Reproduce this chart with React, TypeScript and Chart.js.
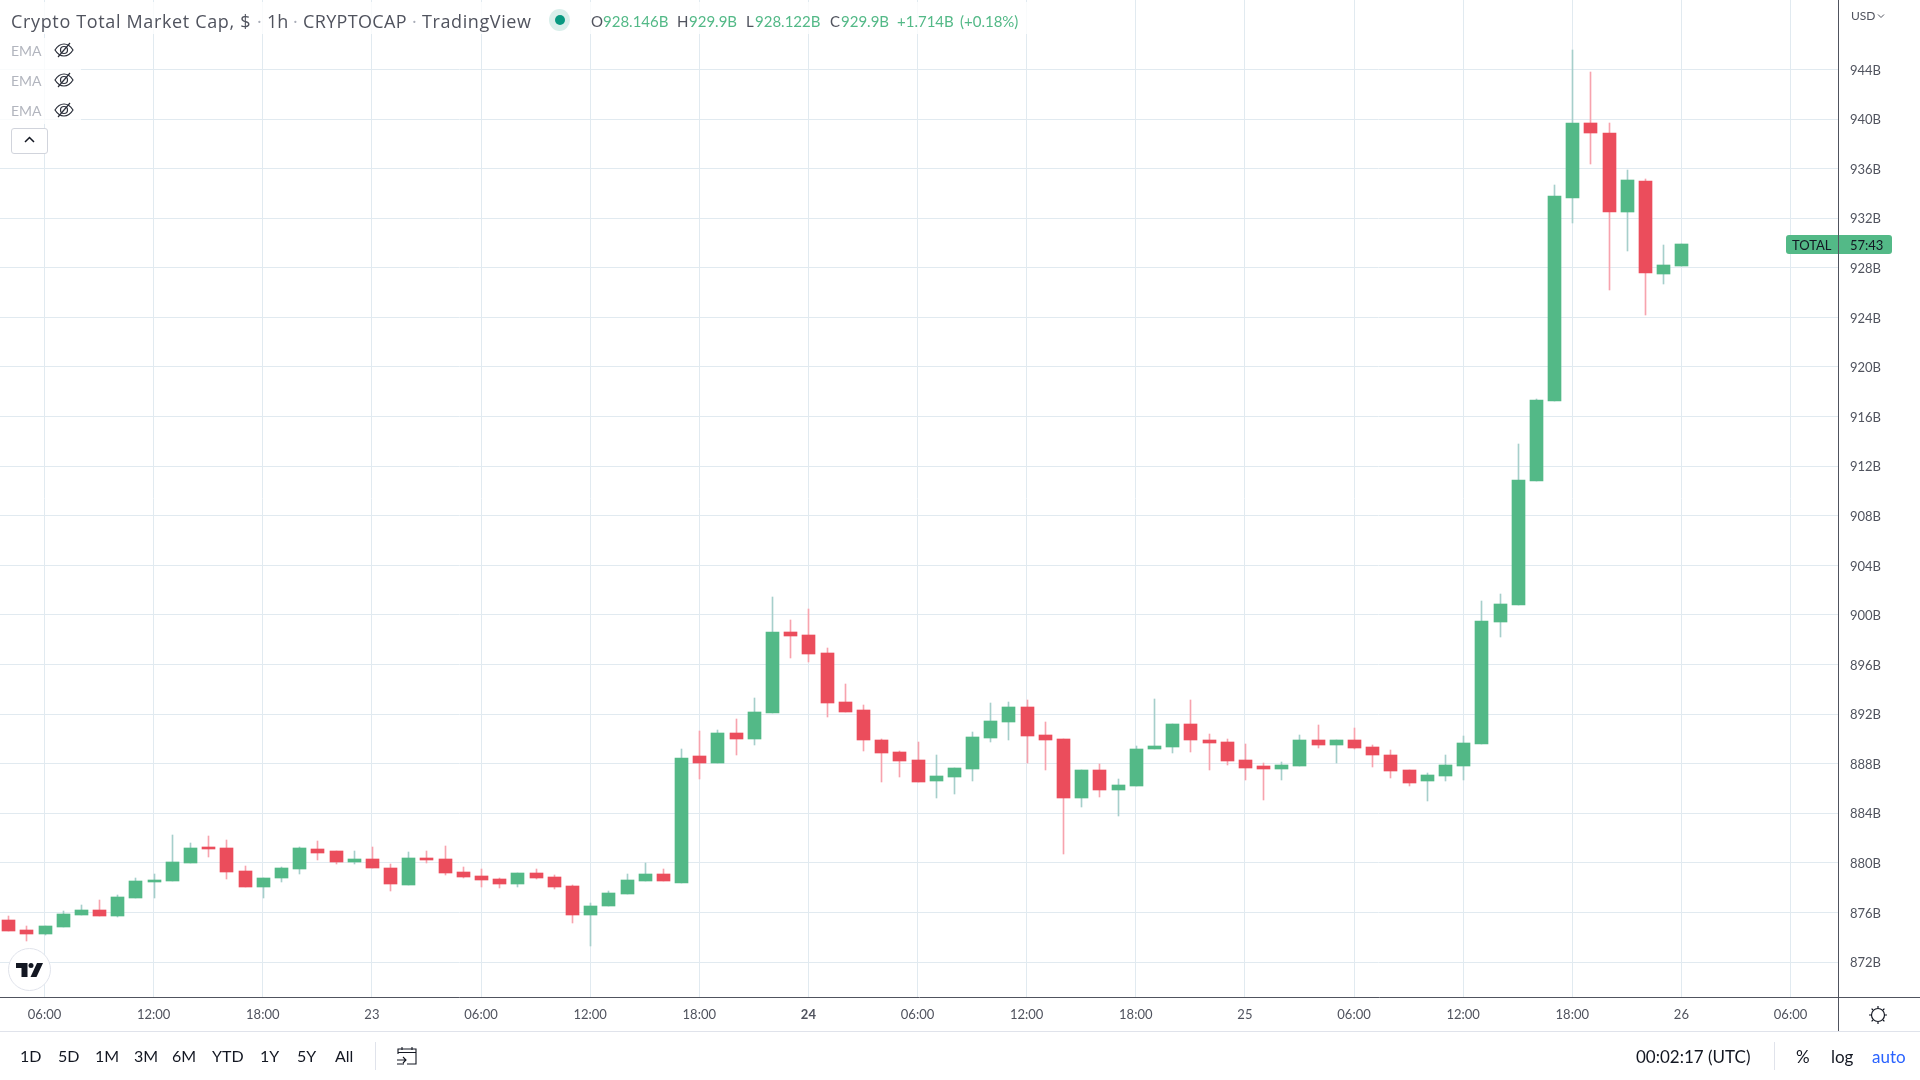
import React, { useEffect, useRef } from "react";
import { Chart, registerables } from "chart.js";

Chart.register(...registerables);

// Hourly candles, hour 4 of the 22nd onwards (hour 0 = 22nd 00:00 UTC)
const firstHour = 4;
const opens = [875.41,874.61,874.28,874.85,875.82,876.22,875.74,877.19,878.48,878.56,880.01,881.30,881.22,879.37,878.08,878.80,879.53,881.14,880.98,880.09,880.33,879.61,878.24,880.41,880.33,879.28,878.96,878.72,878.32,879.20,878.88,878.16,875.82,876.54,877.51,878.56,879.14,878.40,888.58,888.09,890.51,890.03,892.12,898.66,898.41,896.96,893.01,892.37,889.95,888.98,888.33,886.64,886.96,887.61,890.11,891.40,892.61,890.35,890.03,885.27,887.53,885.91,886.24,889.22,889.38,891.24,889.95,889.78,888.33,887.85,887.61,887.85,889.95,889.54,889.95,889.38,888.74,887.45,886.64,887.04,887.85,889.62,899.46,900.83,910.83,917.28,933.62,939.67,938.87,932.49,935.00,927.49,928.146];
const highs = [875.74,874.93,874.93,876.14,876.62,877.03,877.43,878.80,879.12,882.27,881.62,882.19,881.87,879.77,878.80,879.69,881.30,881.78,880.98,880.98,881.30,879.93,880.90,880.98,881.38,879.69,879.53,878.80,879.20,879.53,879.04,878.24,876.78,877.75,879.12,879.95,879.54,889.22,890.67,890.75,891.64,893.33,901.48,899.62,900.51,897.37,894.46,892.77,890.03,889.06,889.78,888.74,887.69,890.59,892.93,893.01,893.17,891.40,890.03,887.53,888.01,886.80,889.46,893.25,891.24,893.17,890.43,890.03,889.62,888.09,888.17,890.35,891.08,889.95,890.91,889.54,889.14,887.53,887.28,888.66,890.27,901.16,901.72,913.82,917.45,934.67,945.56,943.78,939.67,935.88,935.16,929.83,929.90];
const lows = [874.53,873.72,874.20,874.85,875.82,875.74,875.66,877.19,877.19,878.56,880.01,880.49,878.72,878.08,877.19,878.48,879.12,880.25,879.93,879.93,879.61,877.75,878.24,880.01,879.04,878.80,878.08,877.99,878.08,878.72,877.91,875.17,873.32,876.54,877.51,878.56,878.54,878.40,886.80,888.09,888.74,889.54,892.12,896.56,896.24,891.80,892.20,889.06,886.56,886.96,886.56,885.27,885.59,886.64,889.78,889.95,888.09,887.45,880.75,884.54,885.35,883.82,886.24,889.22,888.90,888.98,887.53,887.93,886.72,885.11,886.72,887.85,889.30,888.09,889.22,887.77,886.88,886.24,885.03,886.64,886.72,889.62,898.25,900.83,910.83,917.28,931.61,936.37,926.20,929.35,924.19,926.69,928.122];
const closes = [874.53,874.28,874.93,875.90,876.22,875.74,877.27,878.56,878.64,880.09,881.22,881.14,879.28,878.08,878.80,879.61,881.22,880.82,880.09,880.33,879.61,878.32,880.41,880.25,879.20,878.88,878.64,878.32,879.20,878.80,878.08,875.82,876.54,877.59,878.64,879.12,878.54,888.49,888.09,890.51,890.03,892.20,898.66,898.33,896.88,892.93,892.20,889.87,888.90,888.25,886.56,887.04,887.69,890.19,891.48,892.61,890.27,889.87,885.27,887.53,885.91,886.32,889.22,889.46,891.24,889.87,889.70,888.25,887.69,887.61,887.93,889.95,889.54,889.95,889.30,888.66,887.37,886.48,887.12,887.93,889.70,899.54,900.91,910.91,917.37,933.78,939.67,938.87,932.49,935.08,927.58,928.22,929.90];

const yTicks = [872,876,880,884,888,892,896,900,904,908,912,916,920,924,928,932,936,940,944];
const xTickHours = [6,12,18,24,30,36,42,48,54,60,66,72,78,84,90,96,102];
const xTickLabels = ["06:00","12:00","18:00","23","06:00","12:00","18:00","24","06:00","12:00","18:00","25","06:00","12:00","18:00","26","06:00"];
const rangeButtons = ["1D","5D","1M","3M","6M","YTD","1Y","5Y","All"];
const rangeLefts = [20,58,95,134,172,212,260,297,335];

const FONT = "Lato, 'Open Sans', sans-serif";
const TITLE_FONT = "'Open Sans', sans-serif";
const UP = "#53b987";
const DOWN = "#eb4d5c";
const UP_WICK = "#a6cfcb";
const DOWN_WICK = "#f7a3ae";
const GRID = "#e1eaf0";
const AXIS = "#50535e";
const TEXT = "#50535e";

const snapBars = {
  id: "snapBars",
  afterDatasetsUpdate(chart: any) {
    chart.data.datasets.forEach((_: any, i: number) => {
      chart.getDatasetMeta(i).data.forEach((el: any) => {
        el.x = Math.round(el.x) + 0.5;
        el.y = Math.round(el.y);
        el.base = Math.round(el.base);
      });
    });
  },
};

const clearPadding = (s: any) => {
  s.paddingTop = 0;
  s.paddingBottom = 0;
  s.paddingLeft = 0;
  s.paddingRight = 0;
};

function T({ x, y, size = 13, color = TEXT, children, weight, family = FONT, spacing }: any) {
  return (
    <div style={{ position: "absolute", left: x, top: y, transform: "translateY(-50%)", fontFamily: family, fontSize: size, color, whiteSpace: "nowrap", lineHeight: 1, fontWeight: weight, letterSpacing: spacing }}>
      {children}
    </div>
  );
}

function Box({ x, y, w, h, bg, style }: any) {
  return <div style={{ position: "absolute", left: x, top: y, width: w, height: h, background: bg, ...style }} />;
}

function Eye({ y }: { y: number }) {
  return (
    <svg style={{ position: "absolute", left: 54, top: y - 9 }} width="20" height="18" viewBox="0 0 20 18" fill="none" stroke="#2a2e39" strokeWidth="1.2">
      <path d="M1 9c2.5-4 5.500-6 9-6s6.500 2 9 6c-2.500 4-5.500 6-9 6s-6.500-2-9-6z" />
      <circle cx="10" cy="9" r="3.5" />
      <path d="M4 16L16 2" />
    </svg>
  );
}

export default function App() {
  const ref = useRef<HTMLCanvasElement>(null);

  useEffect(() => {
    const hours = opens.map((_, i) => firstHour + i);
    const isUp = opens.map((o, i) => closes[i] >= o);
    const chart = new Chart(ref.current as HTMLCanvasElement, {
      type: "bar",
      plugins: [snapBars],
      data: {
        datasets: [
          {
            label: "Wick",
            data: hours.map((h, i) => ({ x: h, y: [lows[i], highs[i]] })),
            backgroundColor: isUp.map((u) => (u ? UP_WICK : DOWN_WICK)),
            barThickness: 1,
            grouped: false,
            order: 2,
          },
          {
            label: "Body",
            data: hours.map((h, i) => ({ x: h, y: [opens[i], closes[i]] })),
            backgroundColor: isUp.map((u) => (u ? UP : DOWN)),
            barThickness: 13,
            grouped: false,
            order: 1,
          },
        ] as any,
      },
      options: {
        animation: false,
        responsive: false,
        layout: { padding: 0 },
        plugins: { legend: { display: false }, title: { display: false }, tooltip: { enabled: false } },
        scales: {
          x: {
            type: "linear",
            offset: false,
            min: 3.553,
            max: 104.61,
            afterFit: (s: any) => { s.height = 83; clearPadding(s); },
            afterBuildTicks: (s: any) => { s.ticks = xTickHours.map((value) => ({ value })); },
            grid: { color: GRID, drawTicks: false, lineWidth: 1, offset: false },
            border: { color: AXIS, width: 1 },
            ticks: {
              autoSkip: false,
              maxRotation: 0,
              padding: 10,
              color: TEXT,
              font: (c: any) => ({ family: FONT, size: 13, weight: c.tick && c.tick.label === "24" ? "bold" : "normal" }),
              callback: (v: any) => xTickLabels[xTickHours.indexOf(v)],
            },
          },
          y: {
            position: "right",
            min: 869.18,
            max: 949.6,
            afterFit: (s: any) => { s.width = 82; clearPadding(s); },
            afterBuildTicks: (s: any) => { s.ticks = yTicks.map((value) => ({ value })); },
            grid: { color: GRID, drawTicks: false, lineWidth: 1 },
            border: { color: AXIS, width: 1 },
            ticks: {
              autoSkip: false,
              padding: 12,
              labelOffset: 1,
              color: TEXT,
              font: { family: FONT, size: 13 },
              callback: (v: any) => `${v}B`,
            },
          },
        },
      } as any,
    });
    return () => chart.destroy();
  }, []);

  const o = { y: 21, size: 15 };
  return (
    <div style={{ position: "absolute", left: 0, top: 0, width: 1920, height: 1080, overflow: "hidden", background: "#fff" }}>
      <canvas ref={ref} width={1920} height={1080} style={{ display: "block", position: "absolute", left: 0, top: 0 }} />

      {/* header */}
      <Box x={0} y={2} w={1027} h={32} bg="rgba(255,255,255,0.8)" />
      <T x={11} y={21} size={18} family={TITLE_FONT} spacing={0.65}>Crypto Total Market Cap, $</T>
      <T x={257} y={21} size={18} color="#a9adb8" family={TITLE_FONT}>·</T>
      <T x={267} y={21} size={18} family={TITLE_FONT}>1h</T>
      <T x={293} y={21} size={18} color="#a9adb8" family={TITLE_FONT}>·</T>
      <T x={303} y={21} size={18} family={TITLE_FONT} spacing={0.35}>CRYPTOCAP</T>
      <T x={412} y={21} size={18} color="#a9adb8" family={TITLE_FONT}>·</T>
      <T x={422} y={21} size={18} family={TITLE_FONT} spacing={0.6}>TradingView</T>
      <div style={{ position: "absolute", left: 549, top: 9, width: 21, height: 22, borderRadius: "50%", background: "#d9efeb" }} />
      <div style={{ position: "absolute", left: 555, top: 15, width: 10, height: 10, borderRadius: "50%", background: "#089981" }} />
      <T x={591} {...o}>O</T>
      <T x={603} {...o} color={UP}>928.146B</T>
      <T x={677} {...o}>H</T>
      <T x={689} {...o} color={UP}>929.9B</T>
      <T x={746} {...o}>L</T>
      <T x={755} {...o} color={UP}>928.122B</T>
      <T x={830} {...o}>C</T>
      <T x={841} {...o} color={UP}>929.9B</T>
      <T x={897} {...o} color={UP}>+1.714B</T>
      <T x={960} {...o} color={UP}>(+0.18%)</T>

      {/* indicator legend */}
      <Box x={0} y={38} w={81} h={86} bg="rgba(255,255,255,0.8)" />
      <T x={11} y={51} size={14} color="#b2b5be">EMA</T>
      <T x={11} y={81} size={14} color="#b2b5be">EMA</T>
      <T x={11} y={111} size={14} color="#b2b5be">EMA</T>
      <Eye y={50} />
      <Eye y={80} />
      <Eye y={110} />
      <div style={{ position: "absolute", left: 11, top: 128, width: 35, height: 24, border: "1px solid #d1d4dc", borderRadius: 3, background: "#fff" }}>
        <svg style={{ position: "absolute", left: 11, top: 6 }} width="13" height="10" viewBox="0 0 13 10" fill="none" stroke="#131722" strokeWidth="1.5">
          <path d="M2 7l4.500-4.500L11 7" />
        </svg>
      </div>

      {/* logo */}
      <div style={{ position: "absolute", left: 8, top: 948, width: 41, height: 41, borderRadius: "50%", background: "#fff", border: "1px solid #e0e3eb" }} />
      <svg style={{ position: "absolute", left: 16, top: 963 }} width="27" height="14" viewBox="0 0 27 14" fill="#131722">
        <path d="M0 0H11.500V14H5.500V5H0Z" />
        <circle cx="15" cy="2.500" r="2.500" />
        <path d="M21 0H27L20.500 14H14.500Z" />
      </svg>

      {/* price axis furniture */}
      <T x={1851} y={16} size={12}>USD</T>
      <svg style={{ position: "absolute", left: 1877, top: 13 }} width="8" height="6" viewBox="0 0 8 6" fill="none" stroke={TEXT} strokeWidth="1">
        <path d="M1 1.500l3 3 3-3" />
      </svg>
      <Box x={1786} y={235} w={52} h={19} bg={UP} style={{ borderRadius: "3px 0 0 3px" }} />
      <Box x={1839} y={235} w={53} h={19} bg={UP} style={{ borderRadius: "0 3px 3px 0" }} />
      <T x={1792} y={245} size={13} color="#131722">TOTAL</T>
      <T x={1850} y={245} size={13} color="#131722">57:43</T>

      {/* axis extensions */}
      <Box x={1838} y={997} w={82} h={1} bg={AXIS} />
      <Box x={1838} y={997} w={1} h={34} bg={AXIS} />
      <Box x={0} y={1031} w={1920} h={1} bg="#e0e3eb" />
      <svg style={{ position: "absolute", left: 1868, top: 1005 }} width="20" height="20" viewBox="0 0 20 20" fill="none" stroke="#131722" strokeWidth="1.2">
        <circle cx="10" cy="10" r="6.500" />
        <path d="M10 1v2M10 17v2M1 10h2M17 10h2M3.600 3.600l1.400 1.400M15 15l1.400 1.400M3.600 16.400L5 15M15 5l1.400-1.400" />
      </svg>

      {/* bottom toolbar */}
      {rangeButtons.map((b, i) => (
        <T key={b} x={rangeLefts[i]} y={1056} size={16} color="#131722">{b}</T>
      ))}
      <Box x={375} y={1042} w={1} h={28} bg="#e0e3eb" />
      <svg style={{ position: "absolute", left: 396, top: 1046 }} width="22" height="20" viewBox="0 0 22 20" fill="none" stroke="#131722" strokeWidth="1.1">
        <path d="M2 8V3h18v15h-9M2 6.500h18M6 1v3M16 1v3M1 14h9M7 11l3 3-3 3M1 18h7" />
      </svg>
      <T x={1636} y={1056} size={17} color="#131722">00:02:17 (UTC)</T>
      <Box x={1774} y={1042} w={1} h={28} bg="#e0e3eb" />
      <T x={1796} y={1056} size={17} color="#131722">%</T>
      <T x={1831} y={1056} size={17} color="#131722">log</T>
      <T x={1872} y={1056} size={17} color="#2962ff">auto</T>
    </div>
  );
}
